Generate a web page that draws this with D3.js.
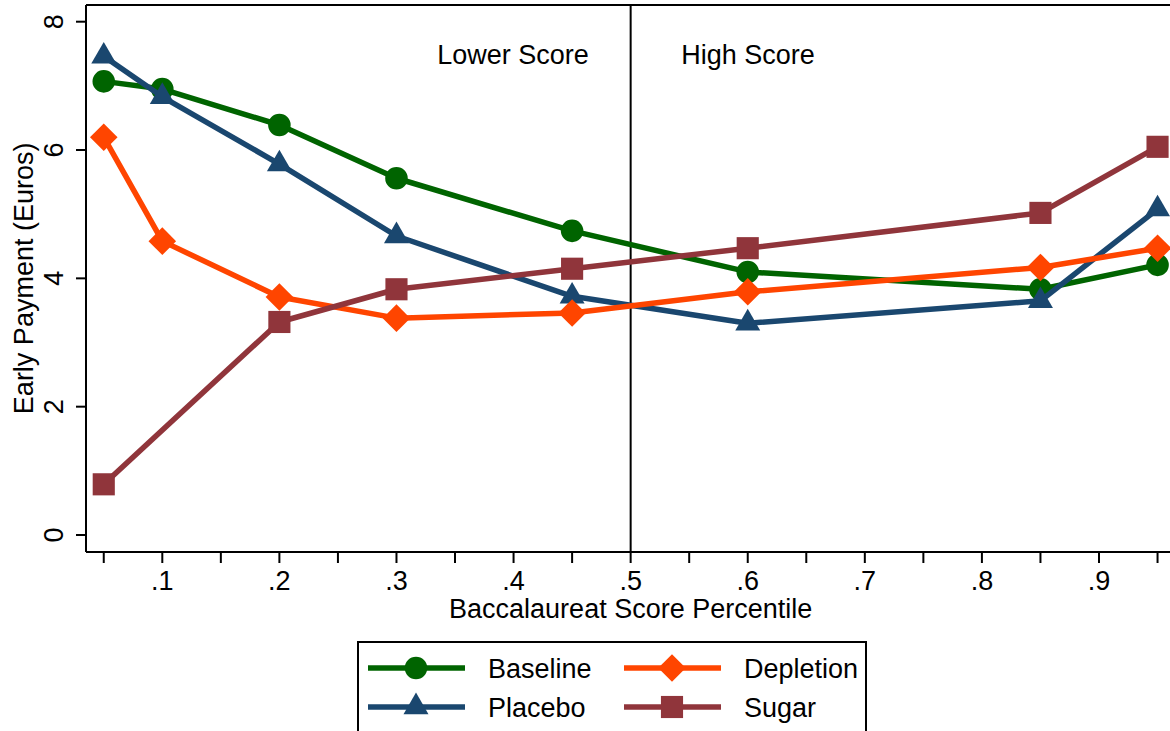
<!DOCTYPE html>
<html><head><meta charset="utf-8">
<script src="https://cdn.jsdelivr.net/npm/d3@7"></script>
<style>body{margin:0;background:#fff}svg{display:block}text{font-family:"Liberation Sans",Arial,sans-serif;fill:#000}</style>
</head><body>
<svg id="c" width="1170" height="731"></svg>
<script>
const percentiles = [0.05, 0.1, 0.2, 0.3, 0.45, 0.6, 0.85, 0.95];
const baseline  = [7.07, 6.95, 6.39, 5.56, 4.74, 4.10, 3.83, 4.21];
const placebo   = [7.46, 6.83, 5.78, 4.66, 3.72, 3.30, 3.65, 5.08];
const depletion = [6.20, 4.58, 3.71, 3.38, 3.46, 3.79, 4.17, 4.47];
const sugarX    = [0.05, 0.2, 0.3, 0.45, 0.6, 0.85, 0.95];
const sugar     = [0.79, 3.32, 3.83, 4.15, 4.47, 5.02, 6.05];
const xTicks = [0.1,0.2,0.3,0.4,0.5,0.6,0.7,0.8,0.9];
const xMinor = [0.05,0.15,0.25,0.35,0.45,0.55,0.65,0.75,0.85,0.95];
const yTicks = [0,2,4,6,8];
const seriesNames = ["Baseline","Placebo","Depletion","Sugar"];

(function(){
const svg = d3.select("#c");
const FS = 27;
const x = d3.scaleLinear().domain([0.1,0.9]).range([162.3,1099]);
const y = d3.scaleLinear().domain([0,8]).range([535,21.7]);
const pL = 86, pT = 5, pB = 552, pR = 1180;

svg.append("line").attr("x1",pL).attr("x2",pR).attr("y1",pT).attr("y2",pT).attr("stroke","#000").attr("stroke-width",2);
svg.append("line").attr("x1",pL).attr("x2",pL).attr("y1",pT).attr("y2",pB).attr("stroke","#000").attr("stroke-width",2);
svg.append("line").attr("x1",pL).attr("x2",pR).attr("y1",pB).attr("y2",pB).attr("stroke","#000").attr("stroke-width",2);

const ya = svg.append("g");
yTicks.forEach(t=>{
  ya.append("line").attr("x1",pL-10).attr("x2",pL).attr("y1",y(t)).attr("y2",y(t)).attr("stroke","#000").attr("stroke-width",2);
  ya.append("text").attr("transform",`translate(63,${y(t)}) rotate(-90)`).attr("text-anchor","middle").attr("font-size",FS).text(t);
});
svg.append("text").attr("transform",`translate(33,${y(4)}) rotate(-90)`).attr("text-anchor","middle").attr("font-size",FS).text("Early Payment (Euros)");

const fmt = d=> d3.format(".1f")(d).replace(/^0/,"");
xTicks.forEach(t=>{
  svg.append("line").attr("x1",x(t)).attr("x2",x(t)).attr("y1",pB).attr("y2",pB+11).attr("stroke","#000").attr("stroke-width",2);
  svg.append("text").attr("x",x(t)).attr("y",590).attr("text-anchor","middle").attr("font-size",FS).text(fmt(t));
});
xMinor.forEach(t=>{
  svg.append("line").attr("x1",x(t)).attr("x2",x(t)).attr("y1",pB).attr("y2",pB+11).attr("stroke","#000").attr("stroke-width",2);
});
svg.append("text").attr("x",x(0.5)).attr("y",618).attr("text-anchor","middle").attr("font-size",FS).text("Baccalaureat Score Percentile");

svg.append("line").attr("x1",x(0.5)).attr("x2",x(0.5)).attr("y1",pT).attr("y2",pB).attr("stroke","#000").attr("stroke-width",2);
svg.append("text").attr("x",513).attr("y",64).attr("text-anchor","middle").attr("font-size",FS).text("Lower Score");
svg.append("text").attr("x",748).attr("y",64).attr("text-anchor","middle").attr("font-size",FS).text("High Score");

const series = [
  {name:seriesNames[0], xs:percentiles, ys:baseline, color:"#006400", sym:d3.symbolCircle, size:400, rot:0},
  {name:seriesNames[1], xs:percentiles, ys:placebo, color:"#1a476f", sym:d3.symbolTriangle, size:270, rot:0},
  {name:seriesNames[2], xs:percentiles, ys:depletion, color:"#ff4500", sym:d3.symbolSquare, size:380, rot:45},
  {name:seriesNames[3], xs:sugarX, ys:sugar, color:"#90353b", sym:d3.symbolSquare, size:490, rot:0},
];
const line = d3.line().x(d=>x(d[0])).y(d=>y(d[1]));
series.forEach(s=>{
  const pts = s.xs.map((v,i)=>[v,s.ys[i]]);
  const g = svg.append("g");
  g.append("path").attr("d",line(pts)).attr("fill","none").attr("stroke",s.color).attr("stroke-width",5.5).attr("stroke-linejoin","round");
  g.selectAll("path.m").data(pts).enter().append("path").attr("class","m")
    .attr("transform",d=>`translate(${x(d[0])},${y(d[1])}) rotate(${s.rot})`)
    .attr("d",d3.symbol().type(s.sym).size(s.size)).attr("fill",s.color);
});

const lg = svg.append("g");
lg.append("rect").attr("x",358).attr("y",642).attr("width",508).attr("height",100).attr("fill","#fff").attr("stroke","#000").attr("stroke-width",2);
const pos = [[368,668],[368,707],[624,668],[624,707]];
series.forEach((s,i)=>{
  const [lx,ly] = pos[i];
  lg.append("line").attr("x1",lx).attr("x2",lx+97).attr("y1",ly).attr("y2",ly).attr("stroke",s.color).attr("stroke-width",5.5);
  lg.append("path").attr("transform",`translate(${lx+48},${ly}) rotate(${s.rot})`).attr("d",d3.symbol().type(s.sym).size(s.size)).attr("fill",s.color);
  lg.append("text").attr("x",lx+120).attr("y",ly+10).attr("font-size",FS).text(s.name);
});
})();
</script>
</body></html>
